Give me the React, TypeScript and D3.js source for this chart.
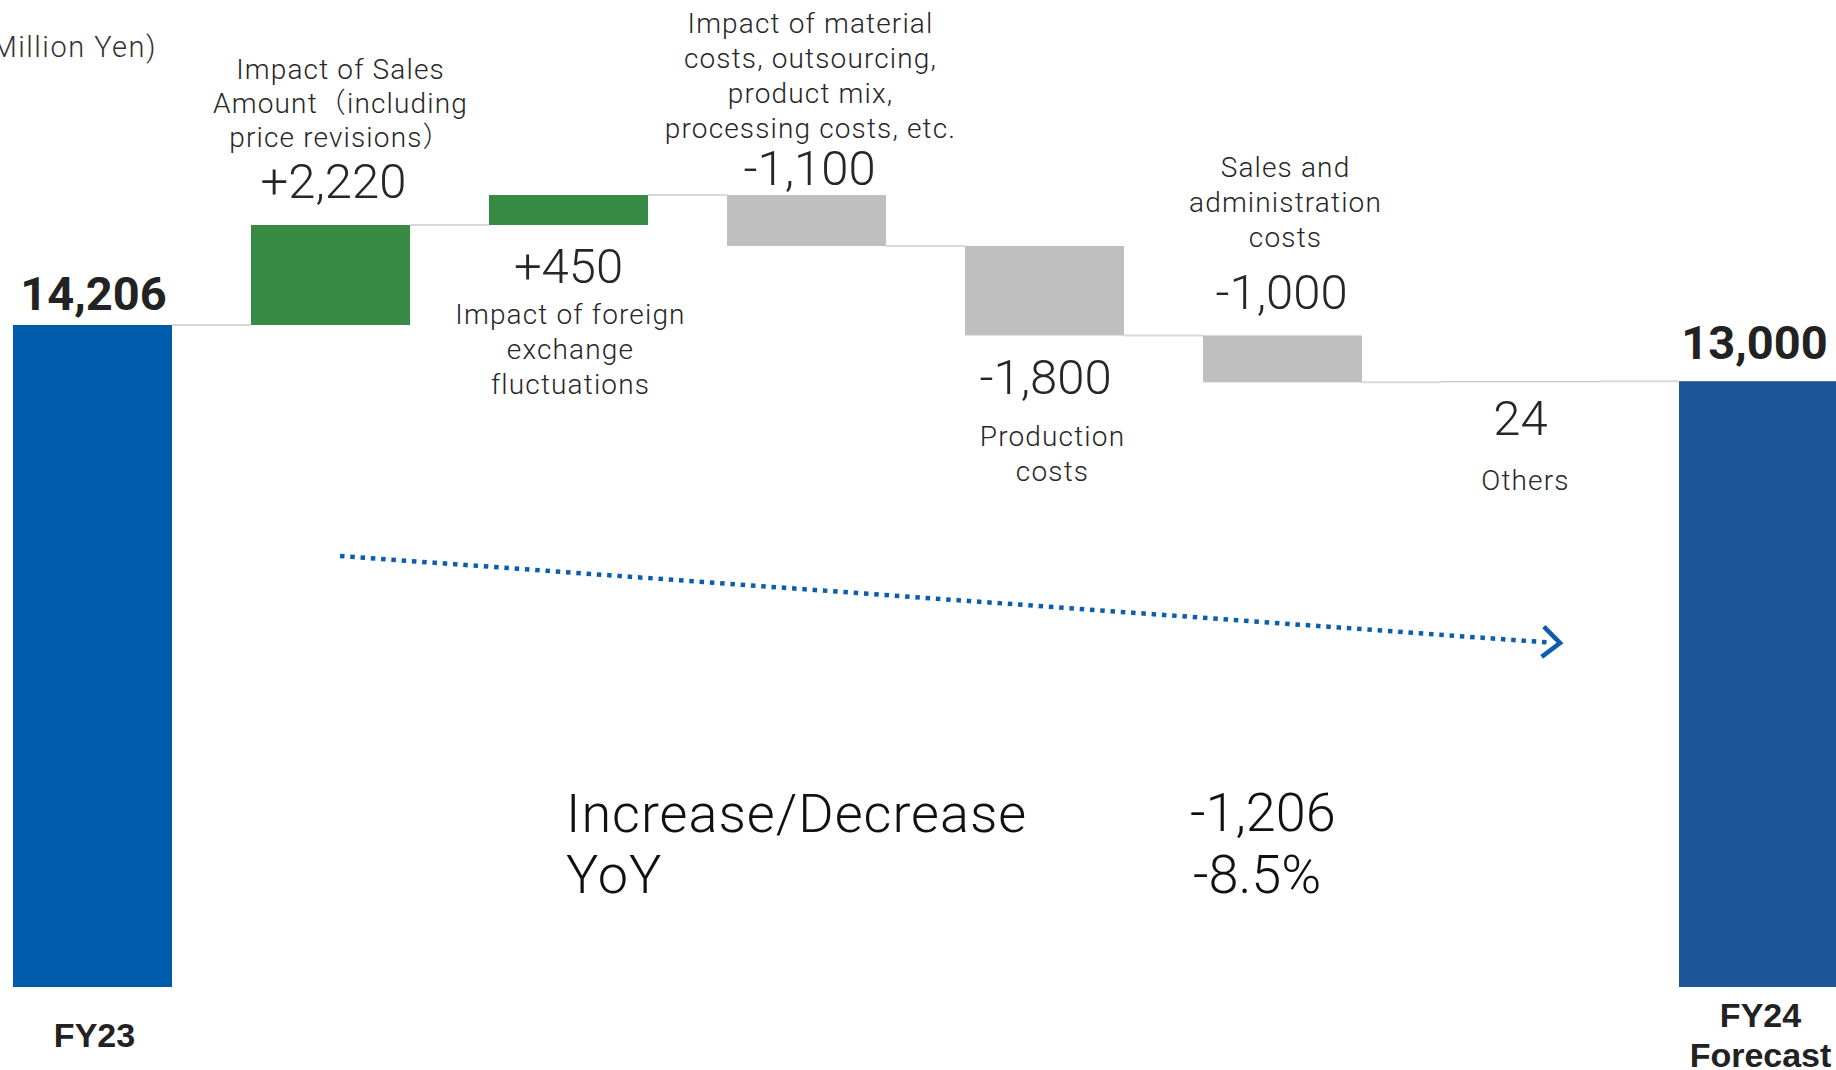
import React from "react";
import * as d3 from "d3";

// ---------- data ----------
const categories = ["FY23", "Sales", "FX", "Material", "Production", "SGA", "Others", "FY24"];
const startTotal = 14206;
const endTotal = 13000;
// bar deltas as drawn in the picture
const barDeltas = [2146, 644, -1094, -1920, -1006, 24];
const deltaLabels = ["+2,220", "+450", "-1,100", "-1,800", "-1,000", "24"];
const deltaLines = [
  ["Impact of Sales", "Amount（including", "price revisions）"],
  ["Impact of foreign", "exchange", "fluctuations"],
  ["Impact of material", "costs, outsourcing,", "product mix,", "processing costs, etc."],
  ["Production", "costs"],
  ["Sales and", "administration", "costs"],
  ["Others"],
];
const totalLabels = ["14,206", "13,000"];
const axisLabels = [["FY23"], ["FY24", "Forecast"]];
const unitLabel = "(Unit: Million Yen)";
const summaryNames = ["Increase/Decrease", "YoY"];
const summaryValues = ["-1,206", "-8.5%"];

// ---------- layout ----------
const W = 1836;
const H = 1070;
const layout = [
  { dx: 3, valueY: 198, textDx: 10, firstY: 79, gap: 34 },
  { dx: 0, valueY: 283, textDx: 2, firstY: 324, gap: 35 },
  { dx: 3, valueY: 185, textDx: 4, firstY: 33, gap: 35 },
  { dx: 1, valueY: 394, textDx: 8, firstY: 446, gap: 35 },
  { dx: -1, valueY: 309, textDx: 3, firstY: 177, gap: 35 },
  { dx: 0, valueY: 435, textDx: 5, firstY: 490, gap: 35 },
];

const LIGHT = "Roboto, 'Noto Sans CJK JP', 'Noto Sans', sans-serif";

export default function App() {
  const x = d3
    .scaleBand<string>()
    .domain(categories)
    .range([13, 13 + 7 * 238 + 159])
    .paddingInner(1 - 159 / 238)
    .paddingOuter(0);
  const y = d3.scaleLinear().domain([0, startTotal]).range([987, 325]);
  const bw = x.bandwidth();

  // waterfall segments
  const segs: { cat: string; lo: number; hi: number; end: number; kind: string }[] = [];
  segs.push({ cat: categories[0], lo: 0, hi: startTotal, end: startTotal, kind: "start" });
  let level = startTotal;
  barDeltas.forEach((d, i) => {
    const next = level + d;
    segs.push({
      cat: categories[i + 1],
      lo: Math.min(level, next),
      hi: Math.max(level, next),
      end: next,
      kind: i === 5 ? "other" : d >= 0 ? "up" : "down",
    });
    level = next;
  });
  segs.push({ cat: categories[7], lo: 0, hi: endTotal, end: endTotal, kind: "end" });

  const fill = (k: string) =>
    k === "start" ? "#005BAC" : k === "end" ? "#1C559A" : k === "up" ? "#388B45" : "#BFBFBF";

  const arrowStart = [340, 556];
  const arrowEnd = [1556, 643];
  const ang = Math.atan2(arrowEnd[1] - arrowStart[1], arrowEnd[0] - arrowStart[0]);
  const tip = [arrowEnd[0] + 4, arrowEnd[1]];
  const armLen = 23;
  const a1 = [tip[0] - armLen * Math.cos(ang - 0.72), tip[1] - armLen * Math.sin(ang - 0.72)];
  const a2 = [tip[0] - armLen * Math.cos(ang + 0.72), tip[1] - armLen * Math.sin(ang + 0.72)];

  return (
    <svg
      width={W}
      height={H}
      viewBox={`0 0 ${W} ${H}`}
      style={{ position: "absolute", left: 0, top: 0, background: "#fff", display: "block" }}
    >
      {/* unit */}
      <text
        x={157}
        y={57}
        textAnchor="end"
        fontFamily={LIGHT}
        fontWeight={300}
        fontSize={29}
        letterSpacing={1.5}
        fill="#333"
      >
        {unitLabel}
      </text>

      {/* connectors */}
      {segs.slice(0, -1).map((s, i) => (
        <line
          key={"c" + i}
          x1={(x(s.cat) as number) + bw}
          x2={x(segs[i + 1].cat) as number}
          y1={y(s.end)}
          y2={y(s.end)}
          stroke="#D9D9D9"
          strokeWidth={2}
        />
      ))}

      {/* bars */}
      {segs.map((s, i) => (
        <rect
          key={"b" + i}
          x={x(s.cat)}
          y={y(s.hi)}
          width={bw}
          height={Math.max(y(s.lo) - y(s.hi), 1)}
          fill={fill(s.kind)}
        />
      ))}

      {/* delta labels */}
      {barDeltas.map((d, i) => {
        const cx = (x(categories[i + 1]) as number) + bw / 2;
        const L = layout[i];
        return (
          <g key={"l" + i} fill="#262626" fontFamily={LIGHT} fontWeight={300} textAnchor="middle">
            <text x={cx + L.dx} y={L.valueY} fontSize={49}>
              {deltaLabels[i]}
            </text>
            {deltaLines[i].map((ln, j) => (
              <text key={j} x={cx + L.textDx} y={L.firstY + j * L.gap} fontSize={28} letterSpacing={1.15}>
                {ln}
              </text>
            ))}
          </g>
        );
      })}

      {/* totals */}
      <text
        x={(x(categories[0]) as number) + bw / 2 + 1}
        y={310}
        textAnchor="middle"
        fontFamily={LIGHT}
        fontWeight={700}
        fontSize={47}
        fill="#222"
      >
        {totalLabels[0]}
      </text>
      <text
        x={(x(categories[7]) as number) + bw / 2 - 4}
        y={359}
        textAnchor="middle"
        fontFamily={LIGHT}
        fontWeight={700}
        fontSize={47}
        fill="#222"
      >
        {totalLabels[1]}
      </text>

      {/* axis labels */}
      {axisLabels[0].map((t, j) => (
        <text
          key={"a0" + j}
          x={(x(categories[0]) as number) + bw / 2 + 2}
          y={1047}
          textAnchor="middle"
          fontFamily="'Liberation Sans', Arial, sans-serif"
          fontWeight={700}
          fontSize={34}
          fill="#222"
        >
          {t}
        </text>
      ))}
      {axisLabels[1].map((t, j) => (
        <text
          key={"a1" + j}
          x={(x(categories[7]) as number) + bw / 2 + 2}
          y={1027 + j * 40}
          textAnchor="middle"
          fontFamily="'Liberation Sans', Arial, sans-serif"
          fontWeight={700}
          fontSize={34}
          fill="#222"
        >
          {t}
        </text>
      ))}

      {/* dotted arrow */}
      <line
        x1={arrowStart[0]}
        y1={arrowStart[1]}
        x2={arrowEnd[0] - 6}
        y2={arrowEnd[1] - 0.4}
        stroke="#0B5DAD"
        strokeWidth={4.5}
        strokeDasharray="4.5 5.8"
      />
      <polyline
        points={`${a1[0]},${a1[1]} ${tip[0]},${tip[1]} ${a2[0]},${a2[1]}`}
        fill="none"
        stroke="#0B5DAD"
        strokeWidth={4.5}
      />

      {/* summary */}
      {summaryNames.map((t, j) => (
        <text
          key={"sn" + j}
          x={566}
          y={832 + j * 61}
          fontFamily={LIGHT}
          fontWeight={300}
          fontSize={54}
          letterSpacing={1}
          fill="#111"
        >
          {t}
        </text>
      ))}
      {summaryValues.map((t, j) => (
        <text
          key={"sv" + j}
          x={1190 + j * 3}
          y={831 + j * 62}
          fontFamily={LIGHT}
          fontWeight={300}
          fontSize={54}
          fill="#111"
        >
          {t}
        </text>
      ))}
    </svg>
  );
}
